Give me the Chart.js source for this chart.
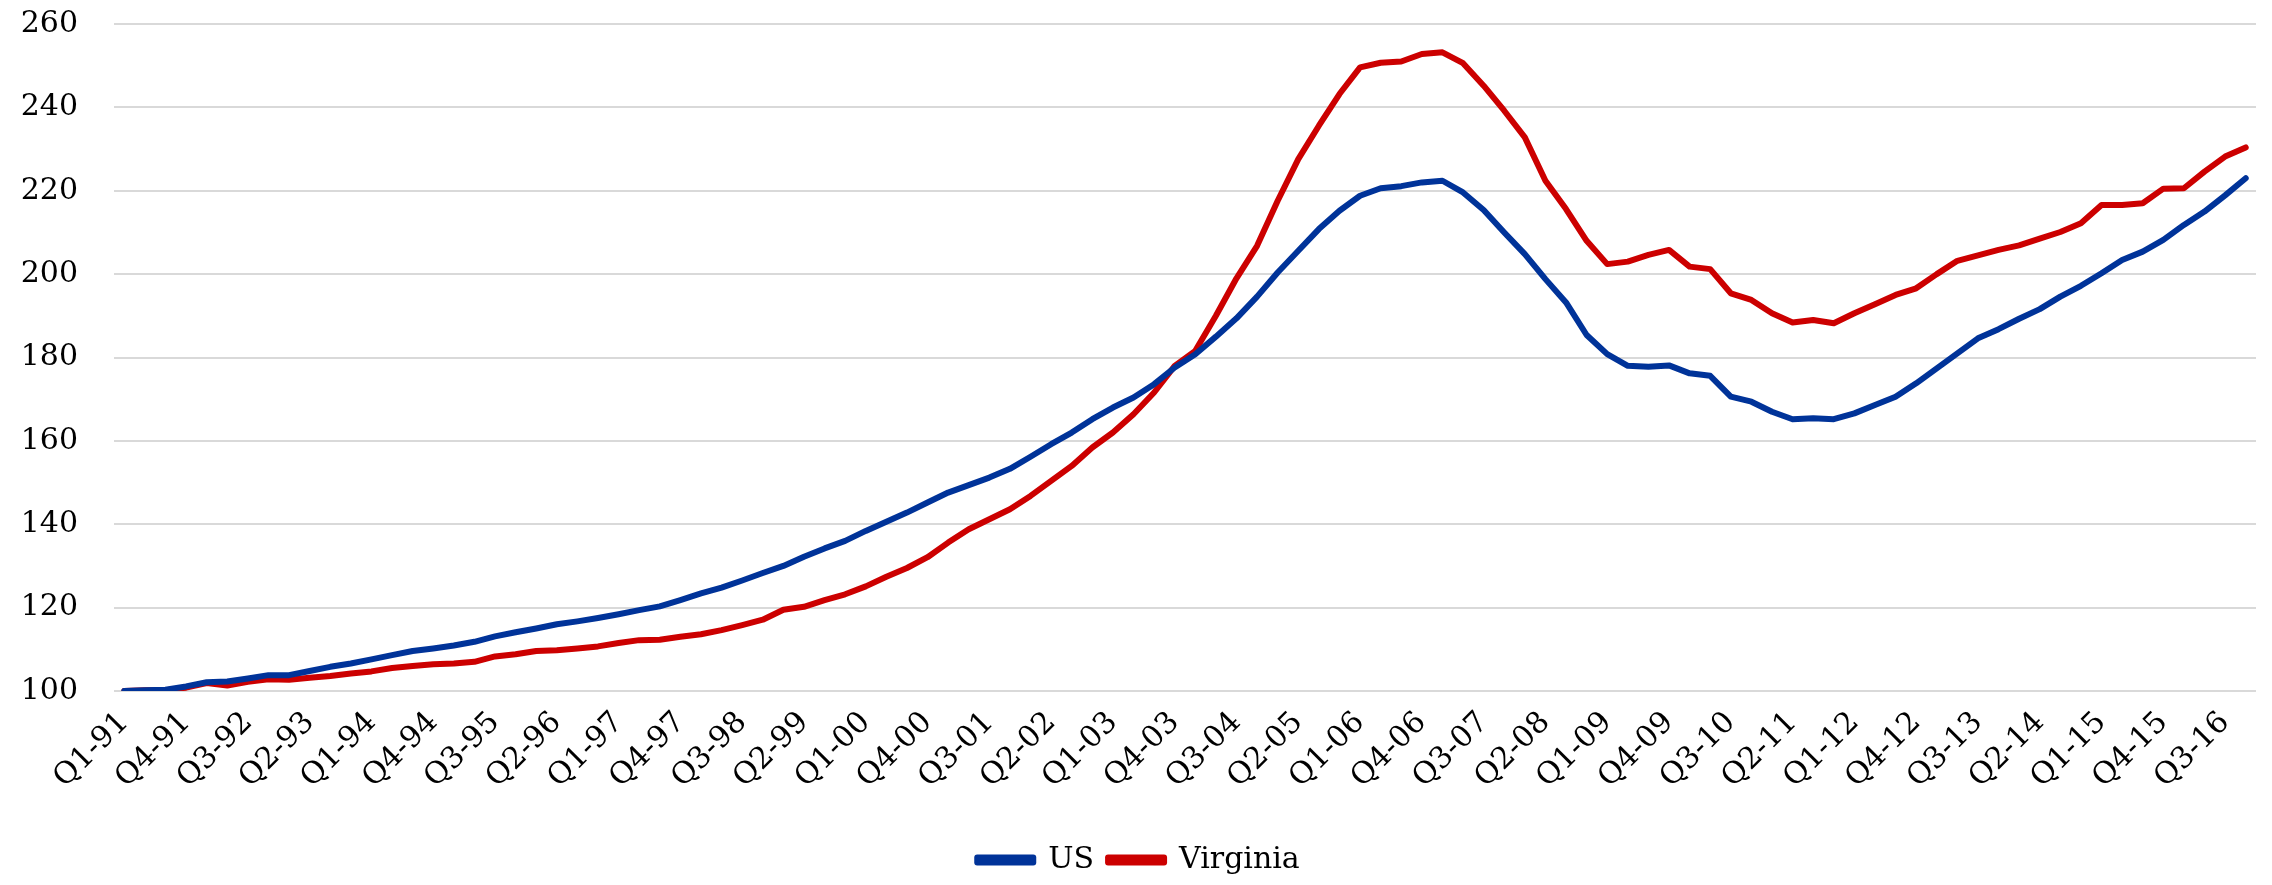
<!DOCTYPE html>
<html>
<head>
<meta charset="utf-8">
<title>US vs Virginia</title>
<script src="https://cdn.jsdelivr.net/npm/chart.js@4.4.1/dist/chart.umd.min.js"></script>
<style>
    html, body { margin: 0; padding: 0; background: #fff; }
    .chart-container { width: 2272px; height: 885px; position: relative; }
</style>
</head>
<body>
<div class="chart-container">
    <canvas id="hpiChart"></canvas>
</div>
<script>
// 季度標籤 Q1-91 ... Q4-16
const years = ['91','92','93','94','95','96','97','98','99','00','01','02','03','04','05','06','07','08','09','10','11','12','13','14','15','16'];
const quarters = [];
years.forEach(function(y) {
    for (let q = 1; q <= 4; q++) quarters.push('Q' + q + '-' + y);
});

// 美國房價指數 (Q1-91 = 100)
const usValues = [
    100.0, 100.2, 100.3, 101.1, 102.1, 102.3, 103.0, 103.8, 103.8, 104.8,
    105.8, 106.6, 107.6, 108.6, 109.6, 110.2, 110.9, 111.8, 113.1, 114.1,
    115.0, 116.0, 116.7, 117.5, 118.4, 119.4, 120.3, 121.8, 123.4, 124.8,
    126.5, 128.3, 130.0, 132.2, 134.2, 136.0, 138.4, 140.6, 142.8, 145.2,
    147.6, 149.4, 151.2, 153.3, 156.2, 159.2, 162.0, 165.2, 168.0, 170.4,
    173.6, 177.6, 180.8, 185.0, 189.4, 194.6, 200.4, 205.6, 210.8, 215.2,
    218.8, 220.6, 221.1, 222.0, 222.4, 219.6, 215.4, 210.0, 204.8, 198.8,
    193.2, 185.4, 180.8, 178.0, 177.8, 178.1, 176.2, 175.6, 170.6, 169.4,
    167.0, 165.2, 165.4, 165.2, 166.6, 168.6, 170.6, 173.8, 177.4, 181.0,
    184.6, 186.8, 189.3, 191.6, 194.6, 197.2, 200.2, 203.4, 205.4, 208.2,
    211.8, 215.0, 218.9, 223.0
];

// 維吉尼亞州房價指數
const vaValues = [
    100.0, 100.2, 100.2, 100.8, 101.9, 101.3, 102.2, 102.8, 102.7, 103.2,
    103.6, 104.2, 104.7, 105.5, 106.0, 106.4, 106.6, 107.0, 108.3, 108.8,
    109.6, 109.8, 110.2, 110.7, 111.5, 112.2, 112.3, 113.0, 113.6, 114.6,
    115.8, 117.1, 119.5, 120.2, 121.8, 123.2, 125.1, 127.4, 129.5, 132.1,
    135.6, 138.8, 141.2, 143.6, 146.8, 150.4, 154.0, 158.4, 162.0, 166.4,
    171.6, 178.0, 181.6, 190.0, 199.0, 206.8, 217.6, 227.6, 235.6, 243.2,
    249.6, 250.7, 251.0, 252.8, 253.2, 250.6, 245.2, 239.2, 232.8, 222.4,
    215.6, 208.0, 202.4, 203.0, 204.6, 205.8, 201.8, 201.2, 195.4, 193.8,
    190.6, 188.4, 189.0, 188.2, 190.6, 192.8, 195.0, 196.6, 200.0, 203.2,
    204.5, 205.8, 206.9, 208.5, 210.1, 212.2, 216.6, 216.6, 217.0, 220.5,
    220.6, 224.6, 228.2, 230.4
];

// Y 軸刻度
const yTicks = [100, 120, 140, 160, 180, 200, 220, 240, 260];

Chart.defaults.font.family = "'DejaVu Serif', 'Liberation Serif', serif";
Chart.defaults.font.size = 30;
Chart.defaults.color = '#000';

const ctx = document.getElementById('hpiChart').getContext('2d');

new Chart(ctx, {
    type: 'line',
    data: {
        labels: quarters,
        datasets: [
            {
                label: 'US',
                data: usValues,
                borderColor: '#003399',
                backgroundColor: '#003399',
                borderWidth: 6,
                pointRadius: 0,
                tension: 0,
                borderCapStyle: 'round',
                borderJoinStyle: 'round',
                fill: false
            },
            {
                label: 'Virginia',
                data: vaValues,
                borderColor: '#CC0000',
                backgroundColor: '#CC0000',
                borderWidth: 6,
                pointRadius: 0,
                tension: 0,
                borderCapStyle: 'round',
                borderJoinStyle: 'round',
                fill: false
            }
        ]
    },
    options: {
        responsive: true,
        maintainAspectRatio: false,
        animation: false,
        layout: {
            padding: { left: 21, right: 16, top: 24, bottom: 0 }
        },
        plugins: {
            legend: {
                position: 'bottom',
                labels: {
                    boxWidth: 56,
                    boxHeight: 5,
                    padding: 14
                }
            },
            tooltip: { enabled: false }
        },
        scales: {
            x: {
                offset: true,
                grid: { display: false },
                border: { display: false },
                afterFit: function(axis) {
                    // 不讓旋轉標籤推移繪圖區
                    axis.paddingLeft = 0;
                    axis.paddingRight = 0;
                    axis.height = 140;
                },
                ticks: {
                    autoSkip: false,
                    minRotation: 45,
                    maxRotation: 45,
                    padding: 6,
                    callback: function(value, index) {
                        return index % 3 === 0 ? quarters[index] : null;
                    }
                }
            },
            y: {
                min: yTicks[0],
                max: yTicks[yTicks.length - 1],
                afterBuildTicks: function(axis) {
                    axis.ticks = yTicks.map(v => ({ value: v }));
                },
                afterFit: function(axis) {
                    axis.paddingTop = 0;
                    axis.paddingBottom = 0;
                    axis.width = 93;
                },
                grid: {
                    color: '#d9d9d9',
                    lineWidth: 2,
                    drawTicks: false
                },
                border: { display: false },
                ticks: {
                    padding: 36
                }
            }
        }
    }
});
</script>
</body>
</html>
